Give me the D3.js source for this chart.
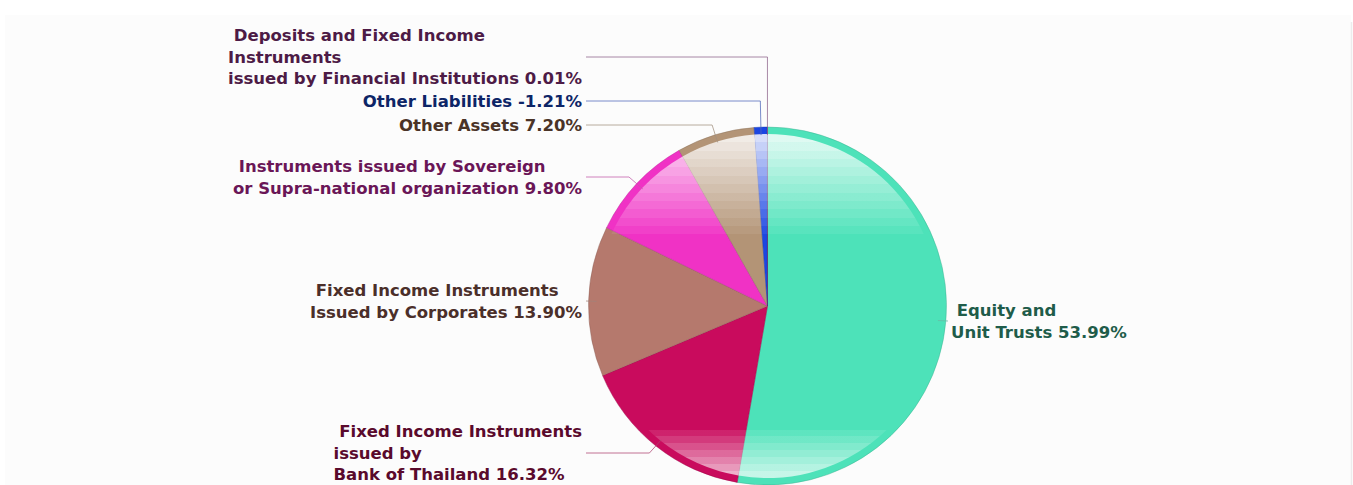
<!DOCTYPE html>
<html>
<head>
<meta charset="utf-8">
<script src="https://cdn.jsdelivr.net/npm/d3@7"></script>
<style>
  html, body { margin: 0; padding: 0; background: #ffffff; }
  svg { display: block; }
  text { white-space: pre; }
</style>
</head>
<body>
<div id="chart"></div>
<script>
// Asset allocation of the fund (% of NAV)
const categories = [
  "Equity and Unit Trusts",
  "Fixed Income Instruments issued by Bank of Thailand",
  "Fixed Income Instruments Issued by Corporates",
  "Instruments issued by Sovereign or Supra-national organization",
  "Other Assets",
  "Other Liabilities",
  "Deposits and Fixed Income Instruments issued by Financial Institutions"
];
const values = [53.99, 16.32, 13.90, 9.80, 7.20, -1.21, 0.01];

// How each category name breaks into label lines
const labelLines = [
  [" Equity and", "Unit Trusts"],
  [" Fixed Income Instruments", "issued by", "Bank of Thailand"],
  [" Fixed Income Instruments", "Issued by Corporates"],
  [" Instruments issued by Sovereign", "or Supra-national organization"],
  ["Other Assets"],
  ["Other Liabilities"],
  [" Deposits and Fixed Income", "Instruments", "issued by Financial Institutions"]
];

const sliceColors = ["#4de2b9", "#c90b5d", "#b5796d", "#f032c5", "#b39476", "#1b46e2", "#8e3f86"];
const labelColors = ["#1f5c4a", "#5a0a2c", "#4b2f2a", "#6a1657", "#4a3327", "#0d2567", "#4d1b46"];

// Layout
const W = 1353, H = 485;
const cx = 767.5, cy = 306, R = 179;
const rim = 7;
const fontSize = 16.5, lineH = 21.5;
const labelCenterY = [321, 453, 301, 177, 125, 101, 57];
const leftLabelRight = 582, rightLabelLeft = 951;

const svg = d3.select("#chart").append("svg")
  .attr("width", W).attr("height", H);

// plot background
svg.append("rect")
  .attr("x", 5).attr("y", 15).attr("width", 1346).attr("height", H - 15)
  .attr("fill", "#fcfcfc");
svg.append("line")
  .attr("x1", 1351.5).attr("x2", 1351.5).attr("y1", 22).attr("y2", H)
  .attr("stroke", "#ececec").attr("stroke-width", 1.5);

const defs = svg.append("defs");

// glossy sheen: stepped white bands fading in from the top and bottom
const sheen = defs.append("linearGradient")
  .attr("id", "sheen")
  .attr("gradientUnits", "userSpaceOnUse")
  .attr("x1", 0).attr("x2", 0).attr("y1", -R).attr("y2", R);
const stops = [];
const topStart = rim / (2 * R), topEnd = 0.30, topBands = 12;
for (let i = 0; i < topBands; i++) {
  const o0 = topStart + (topEnd - topStart) * i / topBands;
  const o1 = topStart + (topEnd - topStart) * (i + 1) / topBands;
  const op = 0.82 * (1 - i / topBands);
  stops.push([o0, op], [o1, op]);
}
stops.push([topEnd, 0], [0.845, 0]);
const botStart = 0.845, botEnd = 1 - rim / (2 * R), botBands = 7;
for (let i = 0; i < botBands; i++) {
  const o0 = botStart + (botEnd - botStart) * i / botBands;
  const o1 = botStart + (botEnd - botStart) * (i + 1) / botBands;
  const op = 0.68 * (i + 1) / botBands;
  stops.push([o0, op], [o1, op]);
}
sheen.selectAll("stop").data(stops).join("stop")
  .attr("offset", d => d[0])
  .attr("stop-color", "#ffffff")
  .attr("stop-opacity", d => d[1]);

const data = categories.map((c, i) => ({
  name: c, value: values[i], lines: labelLines[i],
  color: sliceColors[i], labelColor: labelColors[i], cyLabel: labelCenterY[i]
}));

const pie = d3.pie().sort(null).value(d => Math.abs(d.value));
const arcs = pie(data);

const arcOuter = d3.arc().innerRadius(0).outerRadius(R);
const arcInner = d3.arc().innerRadius(0).outerRadius(R - rim);

const g = svg.append("g").attr("transform", `translate(${cx},${cy})`);

g.selectAll("path.slice").data(arcs).join("path")
  .attr("class", "slice")
  .attr("d", arcOuter)
  .attr("fill", d => d.data.color)
  .attr("stroke", d => d3.color(d.data.color).darker(0.8))
  .attr("stroke-width", 0.6)
  .attr("stroke-opacity", 0.7);

g.selectAll("path.gloss").data(arcs).join("path")
  .attr("class", "gloss")
  .attr("d", arcInner)
  .attr("fill", "url(#sheen)");

// connectors and labels
const ptR = R - 8, elbowR = R + 11;
const fmt = v => v.toFixed(2) + "%";

const labels = svg.append("g")
  .attr("font-family", "'DejaVu Sans', Verdana, sans-serif")
  .attr("font-weight", "bold")
  .attr("font-size", fontSize);

arcs.forEach(a => {
  const d = a.data;
  const mid = (a.startAngle + a.endAngle) / 2;
  const right = Math.sin(mid) > 0;
  const px = cx + ptR * Math.sin(mid), py = cy - ptR * Math.cos(mid);
  const ex = cx + elbowR * Math.sin(mid);
  const ly = d.cyLabel;
  const lines = d.lines.slice();
  lines[lines.length - 1] += " " + fmt(d.value);

  const t = labels.append("text").attr("fill", d.labelColor);
  const n = lines.length;
  const spans = lines.map((ln, i) => t.append("tspan")
    .attr("y", ly + (i - (n - 1) / 2) * lineH + 0.36 * fontSize)
    .text(ln));
  const widths = spans.map(s => s.node().getComputedTextLength());
  const blockW = d3.max(widths);
  const x0 = right ? rightLabelLeft : leftLabelRight - blockW;
  spans.forEach(s => s.attr("x", x0));

  const sx = right ? rightLabelLeft - 3 : leftLabelRight + 4;
  let pts;
  if (right ? ex > sx : ex < sx) pts = [[sx, ly], [px, py]];
  else pts = [[sx, ly], [ex, ly], [px, py]];
  svg.append("path")
    .attr("d", d3.line()(pts))
    .attr("fill", "none")
    .attr("stroke", d3.interpolateRgb(d.color, "#8a8a8a")(0.45))
    .attr("stroke-opacity", 0.75)
    .attr("stroke-width", 1);
});
</script>
</body>
</html>
